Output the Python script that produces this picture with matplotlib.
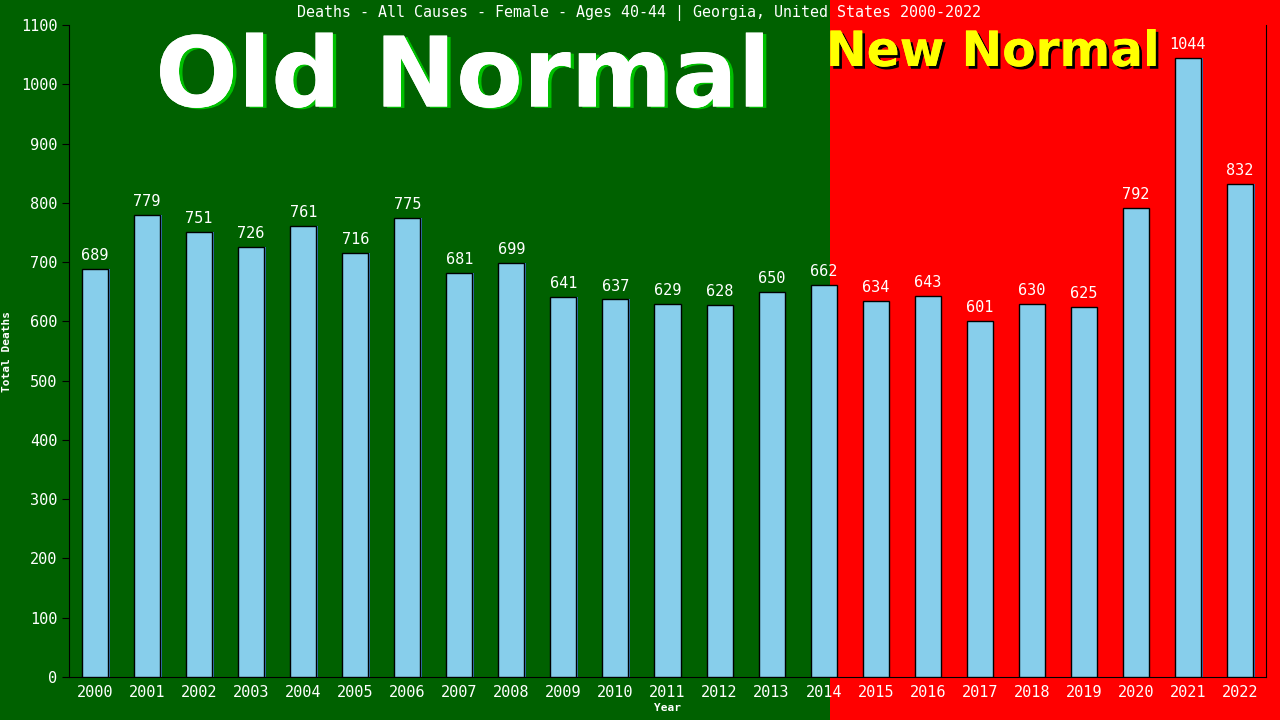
import matplotlib
matplotlib.use('Agg')
import matplotlib.pyplot as plt
import matplotlib.patheffects as pe
from matplotlib.patches import Rectangle

years = list(range(2000, 2023))
deaths = [689, 779, 751, 726, 761, 716, 775, 681, 699, 641, 637, 629,
          628, 650, 662, 634, 643, 601, 630, 625, 792, 1044, 832]

green = '#006100'
red = '#ff0000'
bar_col = '#87ceeb'
mono = 'DejaVu Sans Mono'
split = 830 / 1280

fig = plt.figure(figsize=(12.8, 7.2), dpi=100)
fig.patch.set_facecolor(green)

# background: green left, red right
bg = fig.add_axes([0, 0, 1, 1], zorder=-10)
bg.set_xlim(0, 1)
bg.set_ylim(0, 1)
bg.add_patch(Rectangle((0, 0), split, 1, facecolor=green, edgecolor='none'))
bg.add_patch(Rectangle((split, 0), 1 - split, 1, facecolor=red, edgecolor='none'))
bg.axis('off')

ax = fig.add_axes([69/1280, 43/720, 1197/1280, 652/720], zorder=1)
ax.patch.set_alpha(0)
x = list(range(len(years)))
# little blue shadow on the right of each bar
ax.bar([i + 0.03 for i in x], deaths, width=0.5, color='#3a7dc0', zorder=2)
ax.bar(x, deaths, width=0.5, color=bar_col, edgecolor='black', linewidth=1, zorder=3)
for i, v in zip(x, deaths):
    ax.text(i, v + 10, str(v), ha='center', va='bottom', color='white',
            fontsize=11, family=mono, zorder=4)

ax.set_xlim(-0.5, len(years) - 0.5)
ax.set_ylim(0, 1100)
ax.set_yticks(range(0, 1101, 100))
ax.set_xticks(x)
ax.set_xticklabels([str(y) for y in years])
ax.tick_params(colors='black', labelcolor='white', labelsize=11, length=5)
for lab in ax.get_xticklabels() + ax.get_yticklabels():
    lab.set_family(mono)
ax.tick_params(axis='x', length=0, pad=6)
for s in ['left', 'bottom', 'right']:
    ax.spines[s].set_color('black')
ax.spines['top'].set_visible(False)

ax.set_xlabel('Year', color='white', fontsize=8, family=mono, fontweight='bold', labelpad=2)
ax.set_ylabel('Total Deaths', color='white', fontsize=8, family=mono, fontweight='bold', labelpad=6)

fig.text(639/1280, 1 - 13/720, 'Deaths - All Causes - Female - Ages 40-44 | Georgia, United States 2000-2022',
         ha='center', va='center', color='white', fontsize=10.8, family=mono)

fig.text(463/1280, 1 - 80/720, 'Old Normal', ha='center', va='center', color='white',
         fontsize=70, fontweight='bold', family='DejaVu Sans',
         path_effects=[pe.withSimplePatchShadow(offset=(2.5, -1), shadow_rgbFace='#00c000', alpha=1),
                       pe.Normal()])
fig.text(993/1280, 1 - 52/720, 'New Normal', ha='center', va='center', color='#ffff00',
         fontsize=35, fontweight='bold', family='DejaVu Sans',
         path_effects=[pe.withSimplePatchShadow(offset=(2, -2), shadow_rgbFace='black', alpha=1),
                       pe.Normal()])

fig.savefig('out.png', dpi=100, facecolor=fig.get_facecolor())
